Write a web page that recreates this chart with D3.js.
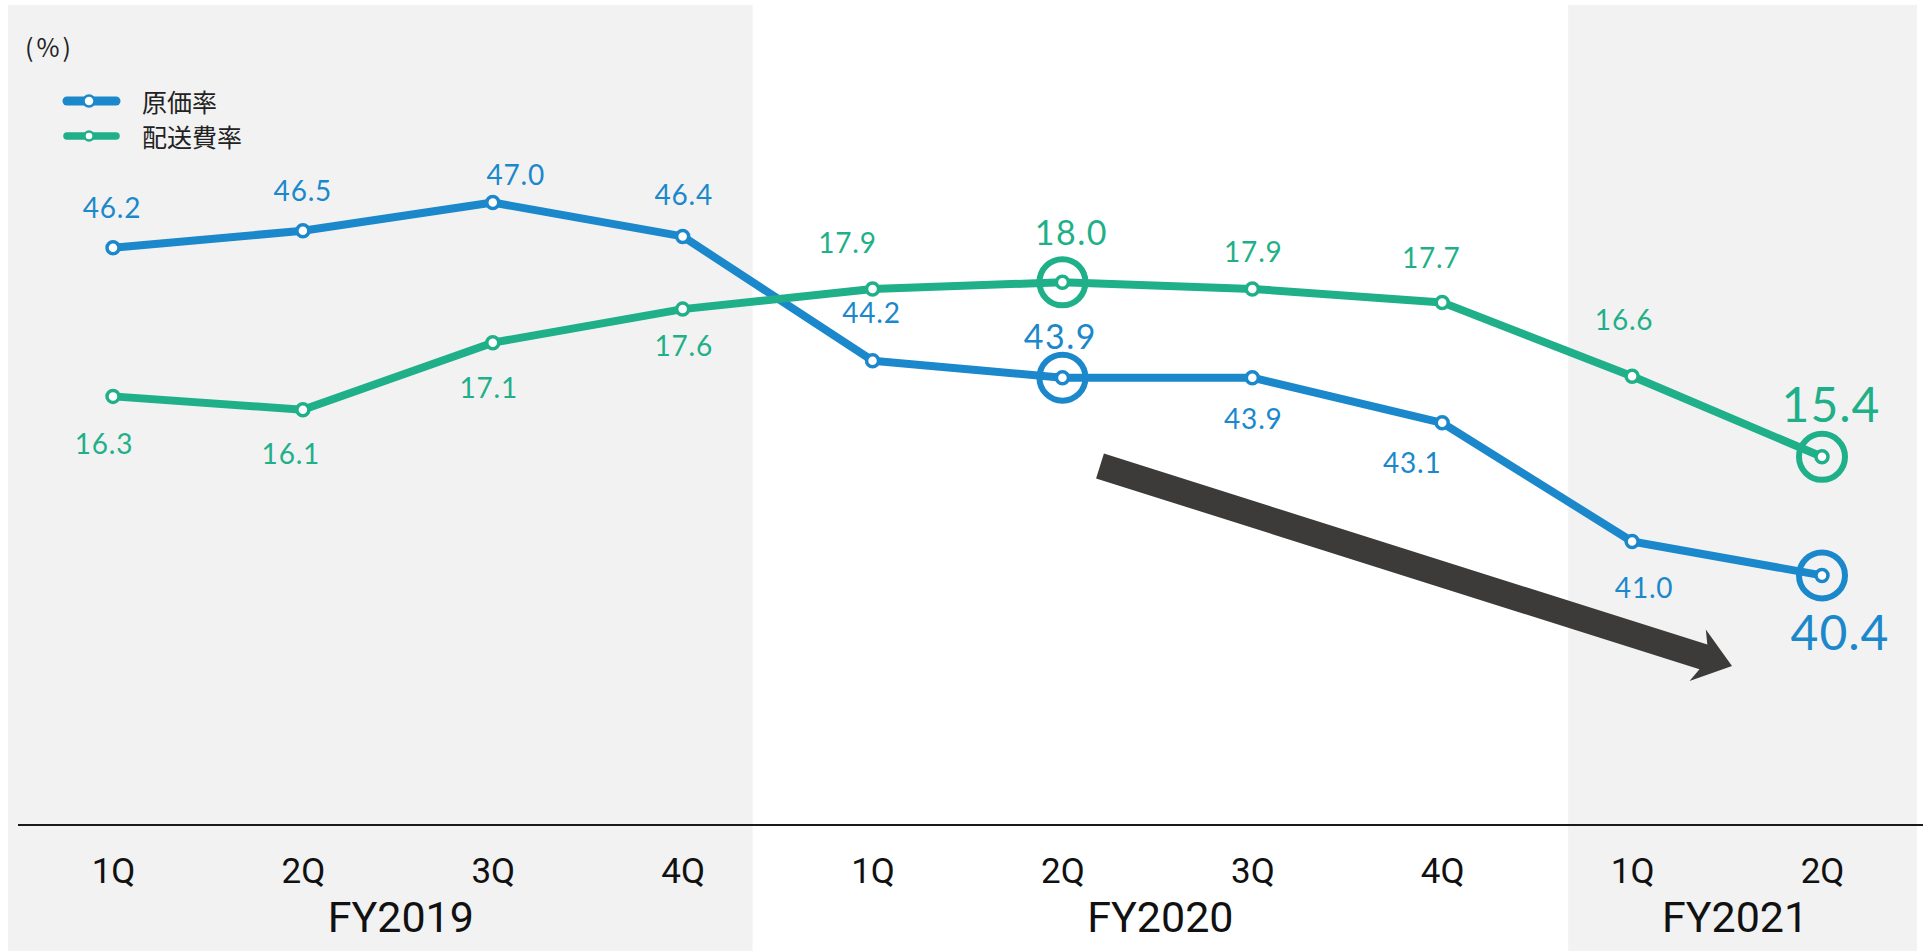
<!DOCTYPE html>
<html lang="ja">
<head>
<meta charset="utf-8">
<title>原価率・配送費率の推移</title>
<script src="https://cdn.jsdelivr.net/npm/d3@7/dist/d3.min.js"></script>
<style>
  html, body { margin: 0; padding: 0; background: #ffffff; }
  svg { display: block; }
  text { font-family: Lato, "Noto Sans", "Noto Sans CJK JP", sans-serif; }
</style>
</head>
<body>
<svg id="chart" width="1923" height="951"></svg>
<script>
// Quarter categories and fiscal-year groups
const quarters = ["1Q", "2Q", "3Q", "4Q", "1Q", "2Q", "3Q", "4Q", "1Q", "2Q"];
const fiscalYears = ["FY2019", "FY2020", "FY2021"];
const yearOfQuarter = [0, 0, 0, 0, 1, 1, 1, 1, 2, 2];

// Series values (%)
const costRate = [46.2, 46.5, 47.0, 46.4, 44.2, 43.9, 43.9, 43.1, 41.0, 40.4];
const shippingRate = [16.3, 16.1, 17.1, 17.6, 17.9, 18.0, 17.9, 17.7, 16.6, 15.4];
const seriesNames = ["原価率", "配送費率"];

// Highlighted quarters (ringed, larger labels)
const highlightIdx = [5, 9];

// Value label offsets from each point [dx, dy]
const costLabelOffsets = [[-1, -30], [0, -30], [23, -18], [1, -31], [-1, -38], [-2, -29], [1, 51], [-30, 50], [12, 56], [18, 75]];
const shippingLabelOffsets = [[-9, 58], [-12, 54], [-4, 55], [1, 47], [-25, -36], [9, -37], [1, -27], [-11, -34], [-8, -46], [9, -35]];

const W = 1923, H = 951;
const BLUE = "#1b88cc", GREEN = "#1fb089", BG = "#f2f2f2";
const svg = d3.select("#chart");

const x = d3.scalePoint().domain(d3.range(quarters.length)).range([113, 1822]);
const step = x.step();
const yCost = d3.scaleLinear().domain([36, 48]).range([824, 146]);
const yShip = d3.scaleLinear().domain([9.9, 20.0]).range([826, 148]);

// Shaded fiscal-year bands (FY2019 and FY2021)
const bands = [
  { x0: 8, x1: x(3) + step / 2 - 25 },
  { x0: x(8) - step / 2 + 31, x1: 1917 }
];
svg.append("g").selectAll("rect").data(bands).join("rect")
  .attr("x", d => d.x0).attr("y", 5)
  .attr("width", d => d.x1 - d.x0).attr("height", H - 5)
  .attr("fill", BG);

// Baseline
svg.append("line")
  .attr("x1", 18).attr("x2", W).attr("y1", 825).attr("y2", 825)
  .attr("stroke", "#1a1a1a").attr("stroke-width", 2);

// Quarter labels
const xAxis = d3.axisBottom(x).tickSize(0).tickPadding(0).tickFormat(i => quarters[i]);
const axG = svg.append("g").attr("transform", "translate(0,858)").call(xAxis);
axG.select(".domain").remove();
axG.selectAll("text")
  .attr("font-size", 35).attr("fill", "#111").attr("dy", "0.71em")
  .style("font-family", "Roboto, Lato, sans-serif");

// Fiscal-year labels, centered under their quarters
svg.append("g").selectAll("text").data(fiscalYears).join("text")
  .attr("x", (d, k) => d3.mean(d3.range(quarters.length).filter(i => yearOfQuarter[i] === k), i => x(i)) + (k === 2 ? 8 : 3))
  .attr("y", 932)
  .attr("text-anchor", "middle")
  .attr("font-size", 43).attr("fill", "#111")
  .style("font-family", "Roboto, Lato, sans-serif")
  .text(d => d);

// Trend arrow
(function drawArrow() {
  const tail = [1100, 466], tip = [1732, 666];
  const ang = Math.atan2(tip[1] - tail[1], tip[0] - tail[0]);
  const len = Math.hypot(tip[0] - tail[0], tip[1] - tail[1]);
  const sw = 13, hw = 27, hl = 30;
  const pts = [[0, -sw], [len - hl, -sw], [len - hl - 6, -hw], [len, 0], [len - hl - 6, hw], [len - hl, sw], [0, sw]];
  svg.append("path")
    .attr("d", d3.line()(pts))
    .attr("transform", `translate(${tail[0]},${tail[1]}) rotate(${ang * 180 / Math.PI})`)
    .attr("fill", "#3c3b39");
})();

// Series lines and markers
const series = [
  { values: costRate, y: yCost, color: BLUE, offsets: costLabelOffsets },
  { values: shippingRate, y: yShip, color: GREEN, offsets: shippingLabelOffsets }
];

series.forEach(s => {
  const g = svg.append("g");
  g.append("path")
    .datum(s.values)
    .attr("d", d3.line().x((d, i) => x(i)).y(d => s.y(d)))
    .attr("fill", "none").attr("stroke", s.color)
    .attr("stroke-width", 8).attr("stroke-linejoin", "round");

  g.selectAll("circle.ring").data(highlightIdx).join("circle")
    .attr("class", "ring")
    .attr("cx", i => x(i)).attr("cy", i => s.y(s.values[i]))
    .attr("r", 23).attr("fill", "none")
    .attr("stroke", s.color).attr("stroke-width", 6);

  g.selectAll("circle.pt").data(s.values).join("circle")
    .attr("class", "pt")
    .attr("cx", (d, i) => x(i)).attr("cy", d => s.y(d))
    .attr("r", 6).attr("fill", "#fff")
    .attr("stroke", s.color).attr("stroke-width", 3.5);

  g.selectAll("text").data(s.values).join("text")
    .attr("x", (d, i) => x(i) + s.offsets[i][0])
    .attr("y", (d, i) => s.y(d) + s.offsets[i][1])
    .attr("text-anchor", "middle")
    .attr("fill", s.color)
    .attr("font-size", (d, i) => i === 9 ? 48 : i === 5 ? 34 : 28)
    .attr("letter-spacing", (d, i) => i === 5 ? 1.5 : i === 9 ? 1 : 0.8)
    .text(d => d.toFixed(1));
});

// Unit label
svg.append("text")
  .attr("x", 25).attr("y", 57)
  .attr("font-size", 25).attr("fill", "#222")
  .attr("letter-spacing", 3)
  .style("font-family", "'Noto Sans CJK JP', sans-serif")
  .text("(%)");

// Legend
const legend = svg.append("g");
[BLUE, GREEN].forEach((c, k) => {
  const ly = 101 + k * 35;
  legend.append("line")
    .attr("x1", 67).attr("x2", 116).attr("y1", ly).attr("y2", ly)
    .attr("stroke", c).attr("stroke-width", k === 0 ? 9 : 7.5).attr("stroke-linecap", "round");
  legend.append("circle")
    .attr("cx", 89).attr("cy", ly).attr("r", k === 0 ? 5.5 : 4.5)
    .attr("fill", "#fff").attr("stroke", c).attr("stroke-width", 2.5);
  legend.append("text")
    .attr("x", 142).attr("y", ly + 11)
    .attr("font-size", 25).attr("fill", "#222")
    .style("font-family", "'Noto Sans CJK JP', sans-serif")
    .text(seriesNames[k]);
});
</script>
</body>
</html>
